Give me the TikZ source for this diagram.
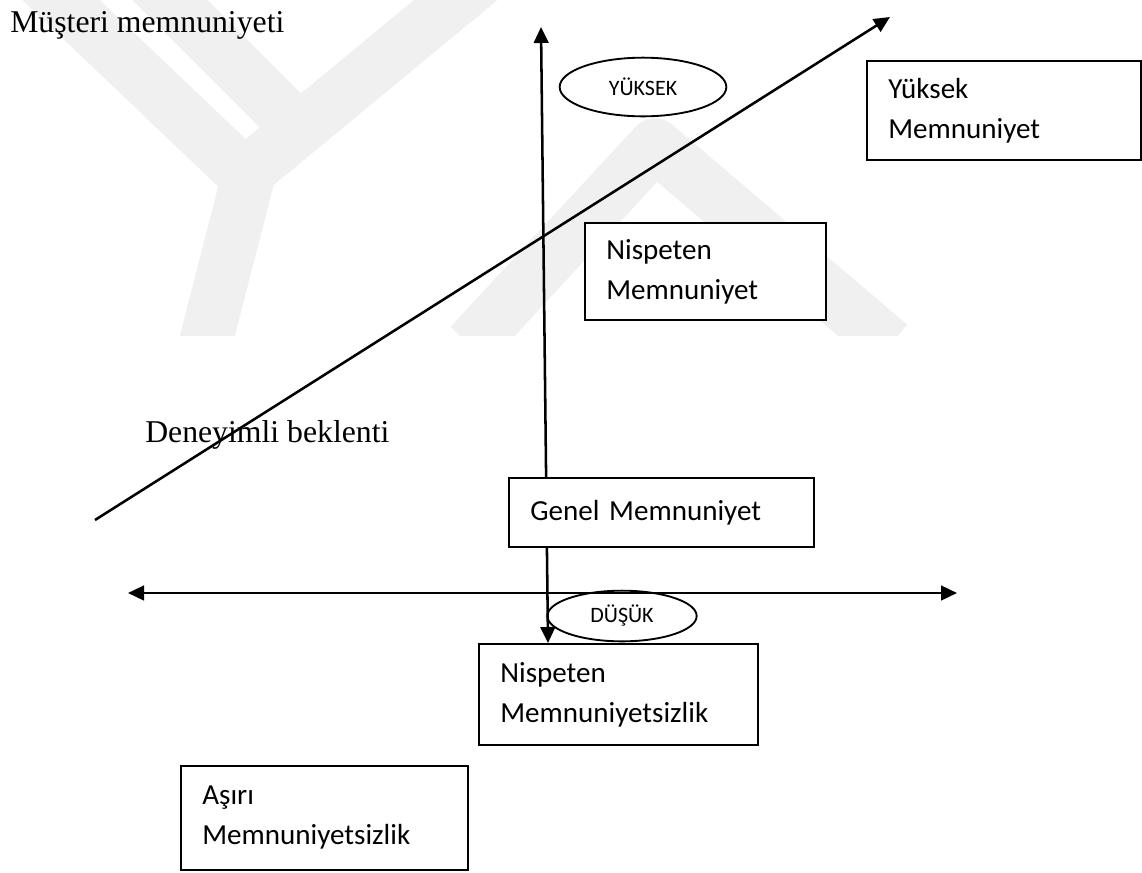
\documentclass[tikz,border=0pt]{standalone}
\usepackage{fontspec}
\setmainfont{Liberation Serif}
\newfontfamily\calibri{Carlito}
\usetikzlibrary{arrows.meta,shapes.geometric}

\begin{document}
\begin{tikzpicture}[
  x=0.75pt, y=-0.75pt,
  >={Triangle[length=12pt,width=11pt]},
  axis/.style={line width=1.9pt},
  band/.style={line width=40pt, black!6, line join=round},
  label/.style={font=\fontsize{23.8}{28}\selectfont, anchor=base west, inner sep=0pt},
  box/.style={draw, line width=1.5pt, fill=white, anchor=north west, align=left,
              font=\calibri\fontsize{21.8}{30}\selectfont, inner xsep=16pt, inner ysep=0pt},
  level/.style={ellipse, draw, line width=1.4pt, inner sep=0pt,
                font=\calibri\fontsize{16.5}{20}\selectfont},
]
  \useasboundingbox (0,0) rectangle (1142,872);
  % Watermark
  \begin{scope}
    \clip (0,0) rectangle (1142,335);
    \draw[band] (40,-20) -- (250,180);
    \draw[band] (150,-20) -- (290,120);
    \draw[band] (480,-20) -- (250,170) -- (205,345);
    \draw[band] (470,345) -- (655,145) -- (890,345);
  \end{scope}
  % Axis ends
  \coordinate (vtop) at (541,27);
  \coordinate (vbot) at (548,643);
  \coordinate (dlow) at (95,520);
  \coordinate (dhigh) at (890,17);
  \coordinate (hleft) at (128,593);
  \coordinate (hright) at (957,593);
  % Axes
  \draw[axis, <->] (vbot) -- (vtop);
  \draw[axis, ->] (dlow) -- (dhigh);
  \draw[axis, <->] (hleft) -- (hright);
  % Axis labels
  \node[label] (musteri) at (10,32) {Müşteri memnuniyeti};
  \node[label] (deneyim) at (145,442) {Deneyimli beklenti};
  \node[level, minimum width=125pt, minimum height=44pt] (yuksek) at (643,87) {YÜKSEK};
  \node[level, minimum width=112pt, minimum height=38pt] (dusuk) at (622,616) {DÜŞÜK};
  % Satisfaction levels
  \node[box, text width=173.5pt, minimum height=74.25pt] (ym) at (866,60)
    {Yüksek\\Memnuniyet};
  \node[box, text width=148.75pt, minimum height=72.75pt] (nm) at (584,222)
    {Nispeten\\Memnuniyet};
  \node[box, text width=196.75pt, minimum height=51.75pt] (gm) at (508,477)
    {Genel Memnuniyet};
  \node[box, text width=177.25pt, minimum height=75.75pt] (nms) at (478,643)
    {Nispeten\\Memnuniyetsizlik};
  \node[box, text width=183.25pt, minimum height=78pt] (am) at (180,765)
    {Aşırı\\Memnuniyetsizlik};
\end{tikzpicture}
\end{document}
